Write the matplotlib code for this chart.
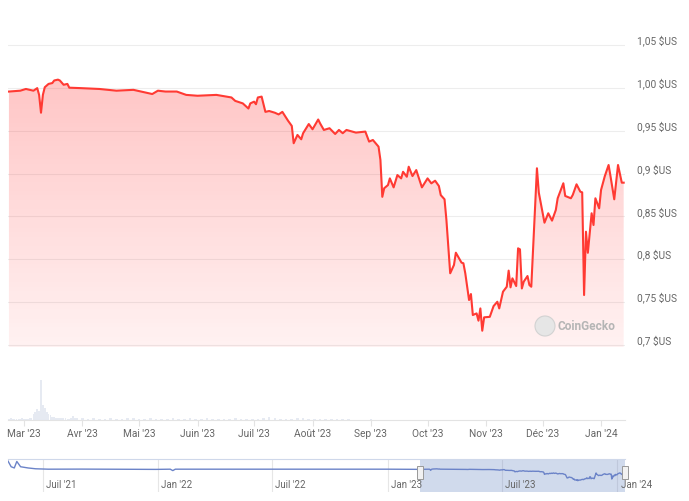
import numpy as np
import pandas as pd
import matplotlib
matplotlib.use("Agg")
import matplotlib.pyplot as plt
import matplotlib.dates as mdates
from matplotlib.patches import Rectangle, Ellipse
from matplotlib.transforms import blended_transform_factory, offset_copy

plt.rcParams['font.family'] = ['Roboto', 'DejaVu Sans']

# prix (jours depuis le 21/02/2023, valeur en $US)
price_days = [0, 6, 9, 13, 15, 16, 17, 18, 19, 21, 23, 24, 26, 27, 29, 31, 32, 38, 48, 57,
              66, 73, 76, 79, 83, 89, 94, 100, 110, 118, 120, 124, 127, 128, 130, 131, 132, 134, 136, 138,
              141, 143, 145, 148, 150, 151, 153, 155, 156, 159, 161, 164, 165, 167, 170, 173, 175, 177, 179, 184,
              189, 191, 193, 196, 197, 198, 199, 201, 202, 204, 206, 208, 209, 211, 212, 214, 216, 219, 222, 224,
              226, 228, 229, 231, 232, 233, 234, 236, 237, 240, 241, 242, 244, 245, 246, 248, 249, 250, 251, 252,
              255, 257, 259, 260, 262, 264, 265, 266, 267, 269, 270, 271, 272, 273, 275, 276, 277, 280, 281, 284,
              286, 288, 290, 291, 294, 295, 298, 299, 301, 303, 304, 305, 306, 307, 309, 310, 311, 313, 314, 316,
              318, 319, 321, 323, 325, 326]
price_vals = [0.9957, 0.9967, 0.9987, 0.9967, 0.9997, 0.9918, 0.9710, 0.9918, 1.0007, 1.0046, 1.0056, 1.0086, 1.0096, 1.0086, 1.0036, 1.0046, 1.0002, 0.9997, 0.9987, 0.9967,
              0.9977, 0.9943, 0.9928, 0.9967, 0.9957, 0.9957, 0.9918, 0.9908, 0.9918, 0.9888, 0.9848, 0.9819, 0.9759, 0.9819, 0.9839, 0.9809, 0.9888, 0.9898, 0.9720, 0.9730,
              0.9710, 0.9690, 0.9720, 0.9617, 0.9556, 0.9354, 0.9451, 0.9400, 0.9471, 0.9578, 0.9517, 0.9631, 0.9586, 0.9509, 0.9529, 0.9462, 0.9509, 0.9471, 0.9509, 0.9478,
              0.9490, 0.9373, 0.9392, 0.9314, 0.9159, 0.8729, 0.8829, 0.8866, 0.8944, 0.8839, 0.8983, 0.8944, 0.9021, 0.8963, 0.9080, 0.8971, 0.9041, 0.8839, 0.8944, 0.8886,
              0.8917, 0.8855, 0.8749, 0.8700, 0.8458, 0.8147, 0.7837, 0.7934, 0.8077, 0.7961, 0.7954, 0.7837, 0.7525, 0.7595, 0.7350, 0.7369, 0.7284, 0.7427, 0.7167, 0.7323,
              0.7329, 0.7454, 0.7505, 0.7427, 0.7622, 0.7680, 0.7868, 0.7673, 0.7778, 0.7688, 0.8128, 0.8116, 0.7660, 0.7739, 0.7805, 0.7700, 0.7680, 0.9062, 0.8777, 0.8427,
              0.8537, 0.8451, 0.8575, 0.8712, 0.8887, 0.8739, 0.8712, 0.8751, 0.8875, 0.8789, 0.8781, 0.7583, 0.8322, 0.8076, 0.8537, 0.8400, 0.8712, 0.8595, 0.8809, 0.8971,
              0.9100, 0.8971, 0.8700, 0.9100, 0.8894, 0.8894]

# volume (unités arbitraires)
vol_days = list(range(0, 36)) + list(range(36, 327, 3))
vol_vals = [1, 2, 1, 1, 1, 1, 1, 2, 1, 1,
            1, 2, 2, 6, 8, 11, 9, 40, 15, 12,
            8, 6, 5, 3, 3, 2, 2, 2, 2, 2,
            2, 1, 1, 2, 4, 2,
            2, 2, 1, 2, 1, 1, 2, 1, 1, 2,
            2, 1, 1, 2, 1, 1, 1, 2, 1, 1,
            2, 1, 1, 2, 1, 1, 1, 1, 2, 1,
            1, 1, 1, 2, 3, 2, 1, 1, 1, 2,
            2, 1, 1, 1, 1, 1, 1, 1, 1, 0.5,
            0.5, 0.5, 1, 0.5, 0.5, 0.5, 0.5, 0.5, 0.5, 0.5,
            0.5, 0.5, 0.5, 0.5, 0.5, 0.5, 0.5, 0.5, 0.5, 0.5,
            0.3, 0.3, 0.3, 0.3, 0.3, 0.3, 0.3, 0.3, 0.3, 0.3,
            0.3, 0.3, 0.3, 0.3, 0.3, 0.3, 0.3, 0.3, 0.3, 0.3,
            0.3, 0.3, 0.3, 0.3, 0.3, 0.3, 0.3]

# historique du navigateur avant la période affichée
nav_dates = ['2021-05-07', '2021-05-12', '2021-05-17', '2021-05-21', '2021-05-27', '2021-06-08',
             '2021-06-20', '2021-07-10', '2021-09-01', '2021-11-01', '2021-12-28', '2022-01-20',
             '2022-01-24', '2022-01-28', '2022-04-01', '2022-07-01', '2022-10-01', '2023-01-01', '2023-02-15']
nav_vals = [1.20, 1.06, 1.03, 1.19, 1.06, 1.03, 1.01, 1.00, 1.002, 0.998, 0.995, 1.0,
            0.965, 1.0, 1.0, 0.999, 1.0, 1.0, 0.995]

y_ticks = [0.70, 0.75, 0.80, 0.85, 0.90, 0.95, 1.00, 1.05]
y_labels = ['0,7 $US', '0,75 $US', '0,8 $US', '0,85 $US', '0,9 $US', '0,95 $US', '1,00 $US', '1,05 $US']
month_labels = ["Mar '23", "Avr '23", "Mai '23", "Juin '23", "Juil '23", "Août '23",
                "Sep '23", "Oct '23", "Nov '23", "Déc '23", "Jan '24"]
nav_ticks = ['2021-07-01', '2022-01-01', '2022-07-01', '2023-01-01', '2023-07-01', '2024-01-01']
nav_labels = ["Juil '21", "Jan '22", "Juil '22", "Jan '23", "Juil '23", "Jan '24"]

base = pd.Timestamp('2023-02-21')
dates = base + pd.to_timedelta(price_days, unit='D')
vdates = base + pd.to_timedelta(vol_days, unit='D')
xmin = base - pd.Timedelta(days=0.5)
xmax = base + pd.Timedelta(days=326.7)

W, H = 689, 501
fig = plt.figure(figsize=(W / 100, H / 100), dpi=100)

def box(x0, y0, x1, y1):
    return [x0 / W, 1 - y1 / H, (x1 - x0) / W, (y1 - y0) / H]

grey = '#666666'

# --- prix ---
ax = fig.add_axes(box(8, 30, 625, 347))
ylo, yhi = 0.6977, 1.0675
ax.set_xlim(xmin, xmax)
ax.set_ylim(ylo, yhi)
lab_tr = offset_copy(blended_transform_factory(ax.transAxes, ax.transData), fig=fig, x=8.5, y=3, units='points')
for v, lab in zip(y_ticks, y_labels):
    ax.axhline(v, color='#ededed', lw=0.8, zorder=0)
    ax.text(1.0, v, lab, transform=lab_tr, fontsize=7.3, color=grey, ha='left', va='center')

poly = ax.fill_between(dates, price_vals, ylo, color='none', lw=0)
grad = np.linspace(0.07, 0.30, 256)[:, None]
img = np.zeros((256, 1, 4))
img[..., 0] = 1.0
img[..., 1] = 0.25
img[..., 2] = 0.25
img[..., 3] = grad
x0n, x1n = mdates.date2num(xmin), mdates.date2num(xmax)
im = ax.imshow(img, extent=[x0n, x1n, ylo, 1.01], origin='lower', aspect='auto', zorder=1)
im.set_clip_path(poly.get_paths()[0], transform=ax.transData)
ax.plot(dates, price_vals, color='#ff3a33', lw=1.5, zorder=3)

ax.set_xticks([])
ax.set_yticks([])
for s in ax.spines.values():
    s.set_visible(False)

# filigrane
fig.patches.append(Ellipse((545 / W, 1 - 326 / H), 20 / W, 20 / H, transform=fig.transFigure,
                           facecolor='#e6e6e6', edgecolor='#d2d2d2', lw=0.8, zorder=4))
fig.text(558 / W, 1 - 326 / H, 'CoinGecko', color='#b5b5b5', fontsize=8.6,
         fontweight='bold', va='center', ha='left')

# --- volume ---
axv = fig.add_axes(box(8, 378, 625, 420))
axv.bar(vdates[:36], vol_vals[:36], width=0.9, color='#e6eaf2', zorder=2)
axv.bar(vdates[36:], vol_vals[36:], width=1.4, color='#e6eaf2', zorder=2)
axv.set_xlim(xmin, xmax)
axv.set_ylim(0, 42)
axv.set_yticks([])
for k in ['top', 'left', 'right']:
    axv.spines[k].set_visible(False)
axv.spines['bottom'].set_color('#e3e3e3')
month_pos = pd.date_range('2023-03-01', '2024-01-01', freq='MS')
axv.set_xticks(month_pos)
axv.set_xticklabels(month_labels)
axv.tick_params(axis='x', length=4, color='#e3e3e3', pad=2.5, labelsize=7.3, labelcolor=grey)

# --- navigateur ---
axn = fig.add_axes(box(8, 459, 625, 492))
nav_x = pd.to_datetime(nav_dates).append(dates[dates > pd.Timestamp(nav_dates[-1])])
nav_y = list(nav_vals) + [v for d, v in zip(dates, price_vals) if d > pd.Timestamp(nav_dates[-1])]
nmin = pd.Timestamp(nav_dates[0])
nmax = dates[-1]
axn.set_xlim(nmin, nmax)
axn.set_ylim(0.44, 1.25)
bt = blended_transform_factory(axn.transData, axn.transAxes)
for t, lab in zip(pd.to_datetime(nav_ticks), nav_labels):
    axn.axvline(t, color='#e6e6e6', lw=0.8, zorder=0)
    axn.text(t + pd.Timedelta(days=5), 0.21, lab, transform=bt,
             fontsize=7, color=grey, va='center', ha='left', clip_on=False)
axn.axvspan(dates[0], nmax, color=(102 / 255, 133 / 255, 194 / 255), alpha=0.3, lw=0, zorder=1)
axn.plot(nav_x, nav_y, color='#6b83c8', lw=1, zorder=2)
for d in [dates[0], nmax]:
    axn.add_patch(Rectangle((mdates.date2num(d) - 5, 0.38), 10, 0.42, transform=bt,
                            facecolor='#f2f2f2', edgecolor='#999999', lw=0.7, zorder=5, clip_on=False))
axn.set_xticks([])
axn.set_yticks([])
for k in ['bottom', 'left', 'right']:
    axn.spines[k].set_visible(False)
axn.spines['top'].set_color('#cfd8ea')

fig.savefig('out.png', dpi=100)
